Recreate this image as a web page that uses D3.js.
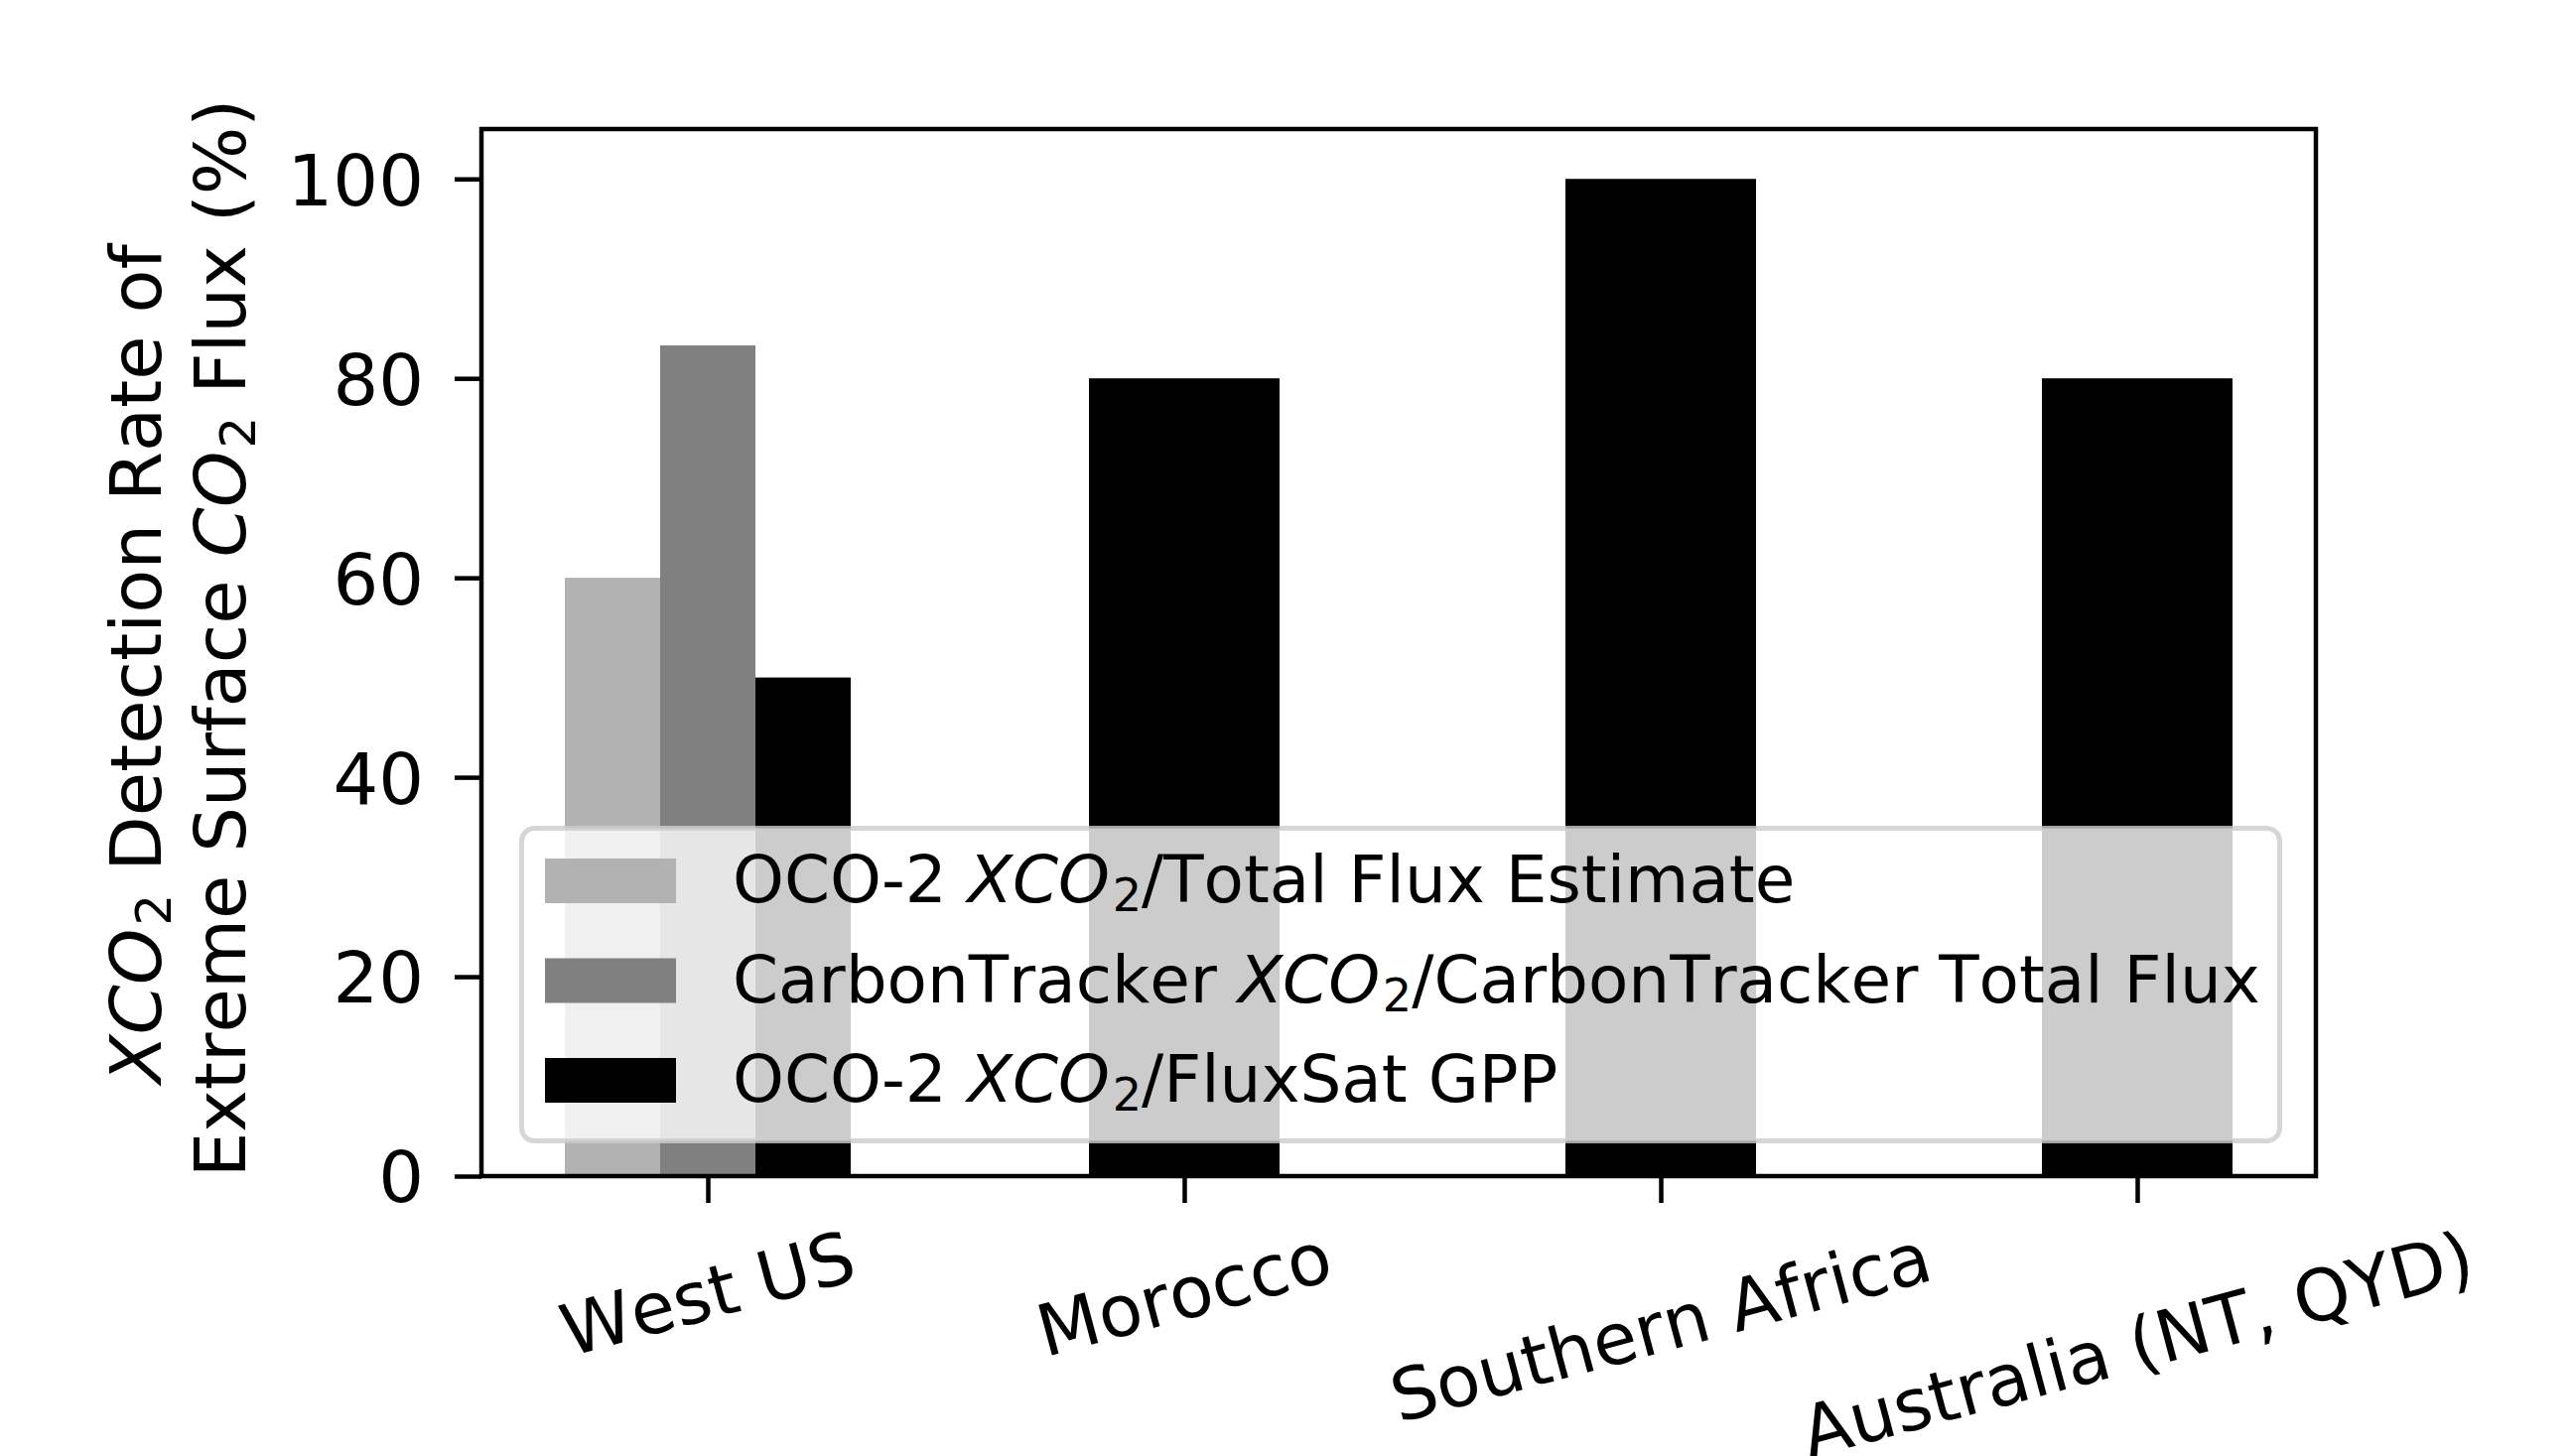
<!DOCTYPE html>
<html>
<head>
<meta charset="utf-8">
<script src="https://cdn.jsdelivr.net/npm/d3@7"></script>
<style>
  html, body { margin: 0; padding: 0; background: #fff; }
  svg { display: block; }
  text { font-family: "DejaVu Sans", sans-serif; fill: #000; font-kerning: none; }
</style>
</head>
<body>
<svg id="chart" width="2592" height="1467"></svg>
<script>
// ---------------- data ----------------
const categories = ["West US", "Morocco", "Southern Africa", "Australia (NT, QYD)"];
const seriesNames = [
  ["OCO-2 ", "XCO", "2", "/Total Flux Estimate"],
  ["CarbonTracker ", "XCO", "2", "/CarbonTracker Total Flux"],
  ["OCO-2 ", "XCO", "2", "/FluxSat GPP"]
];
const oco2TotalFlux = [60, null, null, null];
const carbonTrackerFlux = [83.3, null, null, null];
const fluxSatGPP = [50, 80, 100, 80];
const yTicks = [0, 20, 40, 60, 80, 100];
const seriesColors = ["#b2b2b2", "#808080", "#000000"];

const series = [oco2TotalFlux, carbonTrackerFlux, fluxSatGPP];

// ---------------- layout ----------------
const W = 2592, H = 1467;
const plot = { left: 485, right: 2333, top: 130, bottom: 1185 };
const svg = d3.select("#chart");
svg.append("rect").attr("width", W).attr("height", H).attr("fill", "#fff");

const x = d3.scaleLinear().domain([-0.475, 3.375]).range([plot.left, plot.right]);
const y = d3.scaleLinear().domain([0, 105]).range([plot.bottom, plot.top]);

// ---------------- bars ----------------
const bars = [];
categories.forEach((c, i) => {
  const present = series.map((s, k) => ({ k, v: s[i] })).filter(d => d.v != null);
  const n = present.length;
  const bw = n > 1 ? 0.2 : 0.4;
  present.forEach((d, j) => {
    const center = i + (j - (n - 1) / 2) * bw;
    bars.push({ x0: center - bw / 2, x1: center + bw / 2, v: d.v, k: d.k });
  });
});

svg.append("g").selectAll("rect").data(bars).join("rect")
  .attr("x", d => x(d.x0))
  .attr("width", d => x(d.x1) - x(d.x0))
  .attr("y", d => y(d.v))
  .attr("height", d => y(0) - y(d.v))
  .attr("fill", d => seriesColors[d.k]);

// ---------------- axes ----------------
const tickLen = 27;
const yAxis = d3.axisLeft(y).tickValues(yTicks).tickSize(tickLen).tickPadding(31).tickFormat(d3.format("d"));
const gy = svg.append("g").attr("transform", `translate(${plot.left},0)`).call(yAxis);
gy.select(".domain").remove();
gy.selectAll(".tick line").attr("stroke", "#000").attr("stroke-width", 4.5);
gy.selectAll(".tick text").attr("font-size", 72).attr("font-family", "DejaVu Sans").attr("fill", "#000").attr("dy", "0.36em");

const xAxis = d3.axisBottom(x).tickValues(d3.range(categories.length)).tickSize(tickLen).tickFormat("");
const gx = svg.append("g").attr("transform", `translate(0,${plot.bottom})`).call(xAxis);
gx.select(".domain").remove();
gx.selectAll(".tick line").attr("stroke", "#000").attr("stroke-width", 4.5);

// rotated category labels (bbox centred on tick, top below tick)
const labelTop = 1224;
const rot = 15 * Math.PI / 180;
categories.forEach((c, i) => {
  const g = svg.append("g");
  const t = g.append("text").attr("font-size", 72).attr("text-anchor", "middle").text(c);
  const bb = t.node().getBBox();
  const rh = bb.width * Math.sin(rot) + bb.height * Math.cos(rot);
  t.attr("y", -(bb.y + bb.height / 2));
  g.attr("transform", `translate(${x(i)},${labelTop + rh / 2}) rotate(-15)`);
});

// frame (spines)
svg.append("rect")
  .attr("x", plot.left).attr("y", plot.top)
  .attr("width", plot.right - plot.left).attr("height", plot.bottom - plot.top)
  .attr("fill", "none").attr("stroke", "#000").attr("stroke-width", 4.5);

// ---------------- y label ----------------
function mathText(sel, parts, fs, subShift) {
  sel.append("tspan").text(parts[0]);
  sel.append("tspan").attr("font-style", "italic").text(parts[1]);
  sel.append("tspan").attr("font-size", fs * 0.7).attr("dx", fs * 0.04).attr("dy", subShift).text(parts[2]);
  sel.append("tspan").attr("dy", -subShift).text(parts[3]);
}
const yLabelLines = [
  ["", "XCO", "2", " Detection Rate of"],
  ["Extreme Surface ", "CO", "2", " Flux (%)"]
];
const yLabelPos = [[162, 669], [247, 643]];
yLabelPos.forEach(([bx, cy], li) => {
  const t = svg.append("text")
    .attr("transform", `translate(${bx},${cy}) rotate(-90)`)
    .attr("text-anchor", "middle").attr("font-size", 72);
  mathText(t, yLabelLines[li], 72, 10);
});

// ---------------- legend ----------------
const leg = { x: 525.5, y: 834.5, w: 1771, h: 315 };
svg.append("rect")
  .attr("x", leg.x).attr("y", leg.y).attr("width", leg.w).attr("height", leg.h)
  .attr("rx", 13).attr("ry", 13)
  .attr("fill", "rgba(255,255,255,0.8)")
  .attr("stroke", "rgba(204,204,204,0.8)").attr("stroke-width", 5);

const rowBase = [909, 1009.5, 1110];
seriesNames.forEach((parts, k) => {
  svg.append("rect")
    .attr("x", 549).attr("y", rowBase[k] - 44)
    .attr("width", 132).attr("height", 45)
    .attr("fill", seriesColors[k]);
  const t = svg.append("text").attr("x", 738).attr("y", rowBase[k]).attr("font-size", 66);
  mathText(t, parts, 66, 9);
});
</script>
</body>
</html>
